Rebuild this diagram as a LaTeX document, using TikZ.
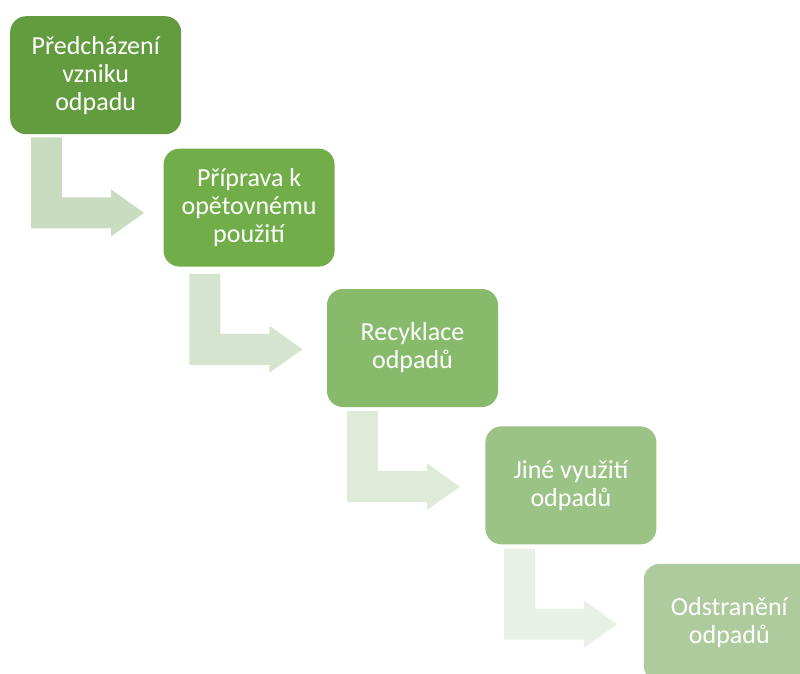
\documentclass[tikz,border=0pt]{standalone}
\usepackage{fontspec}
\setmainfont{Carlito}
\usepackage{tikz}
\usetikzlibrary{positioning,calc}
\definecolor{stepA}{RGB}{99,155,63}
\definecolor{stepB}{RGB}{113,174,73}
\definecolor{stepC}{RGB}{136,186,108}
\definecolor{stepD}{RGB}{156,195,134}
\definecolor{stepE}{RGB}{173,203,156}
\definecolor{arrowA}{RGB}{201,220,192}
\definecolor{arrowB}{RGB}{214,227,206}
\definecolor{arrowC}{RGB}{223,234,216}
\definecolor{arrowD}{RGB}{233,240,229}
\newcommand{\steparrow}[2]{\fill[#2] #1 -- ++(31,0) -- ++(0,60) -- ++(49,0) -- ++(0,-8) -- ++(33,23.5) -- ++(-33,23.5) -- ++(0,-8) -- ++(-80,0) -- cycle;}

\begin{document}
\begin{tikzpicture}[x=1pt, y=-1pt,
	stepbox/.style={rectangle, rounded corners=16pt, minimum width=171pt, minimum height=118pt,
		inner sep=0pt, align=center, text=white, font=\fontsize{26}{28}\selectfont}]
	\useasboundingbox (0,0) rectangle (800,673);
	\clip (0,0) rectangle (800,673);

	\node[stepbox, fill=stepA, anchor=north west] (b1) at (10,16) {Předcházení\\vzniku\\odpadu};
	\node[stepbox, fill=stepB, below right=14pt and -18pt of b1] (b2) {Příprava k\\opětovnému\\použití};
	\node[stepbox, fill=stepC, below right=22pt and -8pt of b2] (b3) {Recyklace\\odpadů};
	\node[stepbox, fill=stepD, below right=19pt and -13pt of b3] (b4) {Jiné využití\\odpadů};
	\node[stepbox, fill=stepE, below right=19pt and -13pt of b4] (b5) {Odstranění\\odpadů};

	\steparrow{($(b1.south west)+(21,3)$)}{arrowA}
	\steparrow{($(b2.south west)+(26,7)$)}{arrowB}
	\steparrow{($(b3.south west)+(20,4)$)}{arrowC}
	\steparrow{($(b4.south west)+(19,4)$)}{arrowD}
\end{tikzpicture}
\end{document}
